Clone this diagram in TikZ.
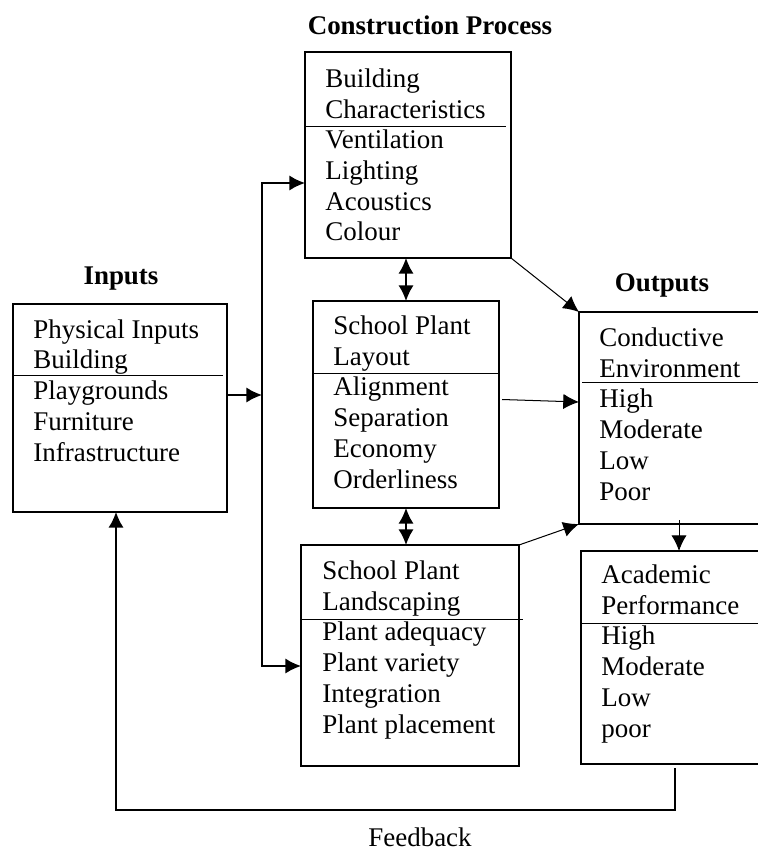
\documentclass[tikz,border=0pt]{standalone}
\usepackage{fontspec}
\setmainfont{Liberation Serif}
\usepackage{tikz}
\usetikzlibrary{calc}
\usetikzlibrary{arrows.meta}

\newcommand{\pxu}{0.445pt}

\tikzset{
	box/.style={draw=black, line width=0.8pt, inner sep=0pt, outer sep=0pt, anchor=north west},
	txt/.style={inner sep=0pt, align=left, anchor=base west, font=\fontsize{12}{13.66}\selectfont},
	ttl/.style={inner sep=0pt, anchor=base, font=\fontsize{12}{13.66}\selectfont\bfseries},
	divider/.style={line width=0.4pt},
	conn/.style={line width=0.7pt},
	thin/.style={line width=0.45pt}
}

\begin{document}
\begin{tikzpicture}[x=\pxu, y=-\pxu, >={Latex[length=7pt,width=6.8pt]}]
		\useasboundingbox (0,0) rectangle (757,850);

		% Inputs (text placed by its last baseline)
		\node at (121,285) (inpttl) [ttl] {Inputs};
		\node at (13,304) (inp) [box, minimum width=214*\pxu, minimum height=208*\pxu] {};
		\node at (33,461) (inptxt) [txt] {Physical Inputs\\Building\\Playgrounds\\Furniture\\Infrastructure};
		\draw[divider] ($(inp.north west)+(0,71)$) -- ($(inp.north east)+(-4,71)$);

		% Construction process
		\node at (430,35) (cpttl) [ttl] {Construction Process};
		\node at (305,52) (cp) [box, minimum width=206*\pxu, minimum height=206*\pxu] {};
		\node at (325,241) (cptxt) [txt] {Building\\Characteristics\\Ventilation\\Lighting\\Acoustics\\Colour};
		\draw[divider] ($(cp.north west)+(0,74)$) -- ($(cp.north east)+(-5,74)$);

		\node at (313,301) (lay) [box, minimum width=186*\pxu, minimum height=207*\pxu] {};
		\node at (333,488) (laytxt) [txt] {School Plant\\Layout\\Alignment\\Separation\\Economy\\Orderliness};
		\draw[divider] ($(lay.north west)+(0,72)$) -- ($(lay.north east)+(0,72)$);

		\node at (301,545) (land) [box, minimum width=218*\pxu, minimum height=221*\pxu] {};
		\node at (322,733) (landtxt) [txt] {School Plant\\Landscaping\\Plant adequacy\\Plant variety\\Integration\\Plant placement};
		\draw[divider] ($(land.north west)+(0,74)$) -- ($(land.north east)+(4,74)$);

		% Outputs
		\node at (662,292) (outttl) [ttl] {Outputs};
		\node at (579,312) (outp) [box, minimum width=200*\pxu, minimum height=212*\pxu] {};
		\node at (599,500) (outtxt) [txt] {Conductive\\Environment\\High\\Moderate\\Low\\Poor};
		\draw[divider] ($(outp.north west)+(3,70)$) -- ($(outp.north east)+(0,70)$);

		\node at (581,551) (acad) [box, minimum width=200*\pxu, minimum height=213*\pxu] {};
		\node at (601,737) (acadtxt) [txt] {Academic\\Performance\\High\\Moderate\\Low\\poor};
		\draw[divider] ($(acad.north west)+(0,72)$) -- ($(acad.north east)+(0,72)$);

		% connectors
		\coordinate (spt) at (262,183);
		\coordinate (spb) at (262,666);
		\coordinate (spm) at (262,395);
		\draw[conn,->] (inp.east |- spm) -- (spm);
		\draw[conn,<->] (cp.west |- spt) -- (spt) -- (spb) -- (land.west |- spb);
		\draw[conn,<->] (cp.south -| lay.north) -- (lay.north);
		\draw[conn,<->] (lay.south) -- (lay.south |- land.north);
		\draw[thin,->] (cp.south east) -- (outp.north west);
		\draw[thin,->] ($(lay.east)+(3,-5)$) -- ($(outp.north west)+(0,90)$);
		\draw[thin,->] (land.north east) -- (outp.south west);
		\draw[thin,->] ($(outp.south west)+(100,-4)$) -- ($(acad.north west)+(98,0)$);

		% Feedback
		\coordinate (fb) at (116,810);
		\draw[conn,->] ($(acad.south west)+(94,4)$) |- (fb) -- (inp.south -| fb);
		\node at (420,846) (fbtxt) [txt, anchor=base] {Feedback};
	\end{tikzpicture}
\end{document}
